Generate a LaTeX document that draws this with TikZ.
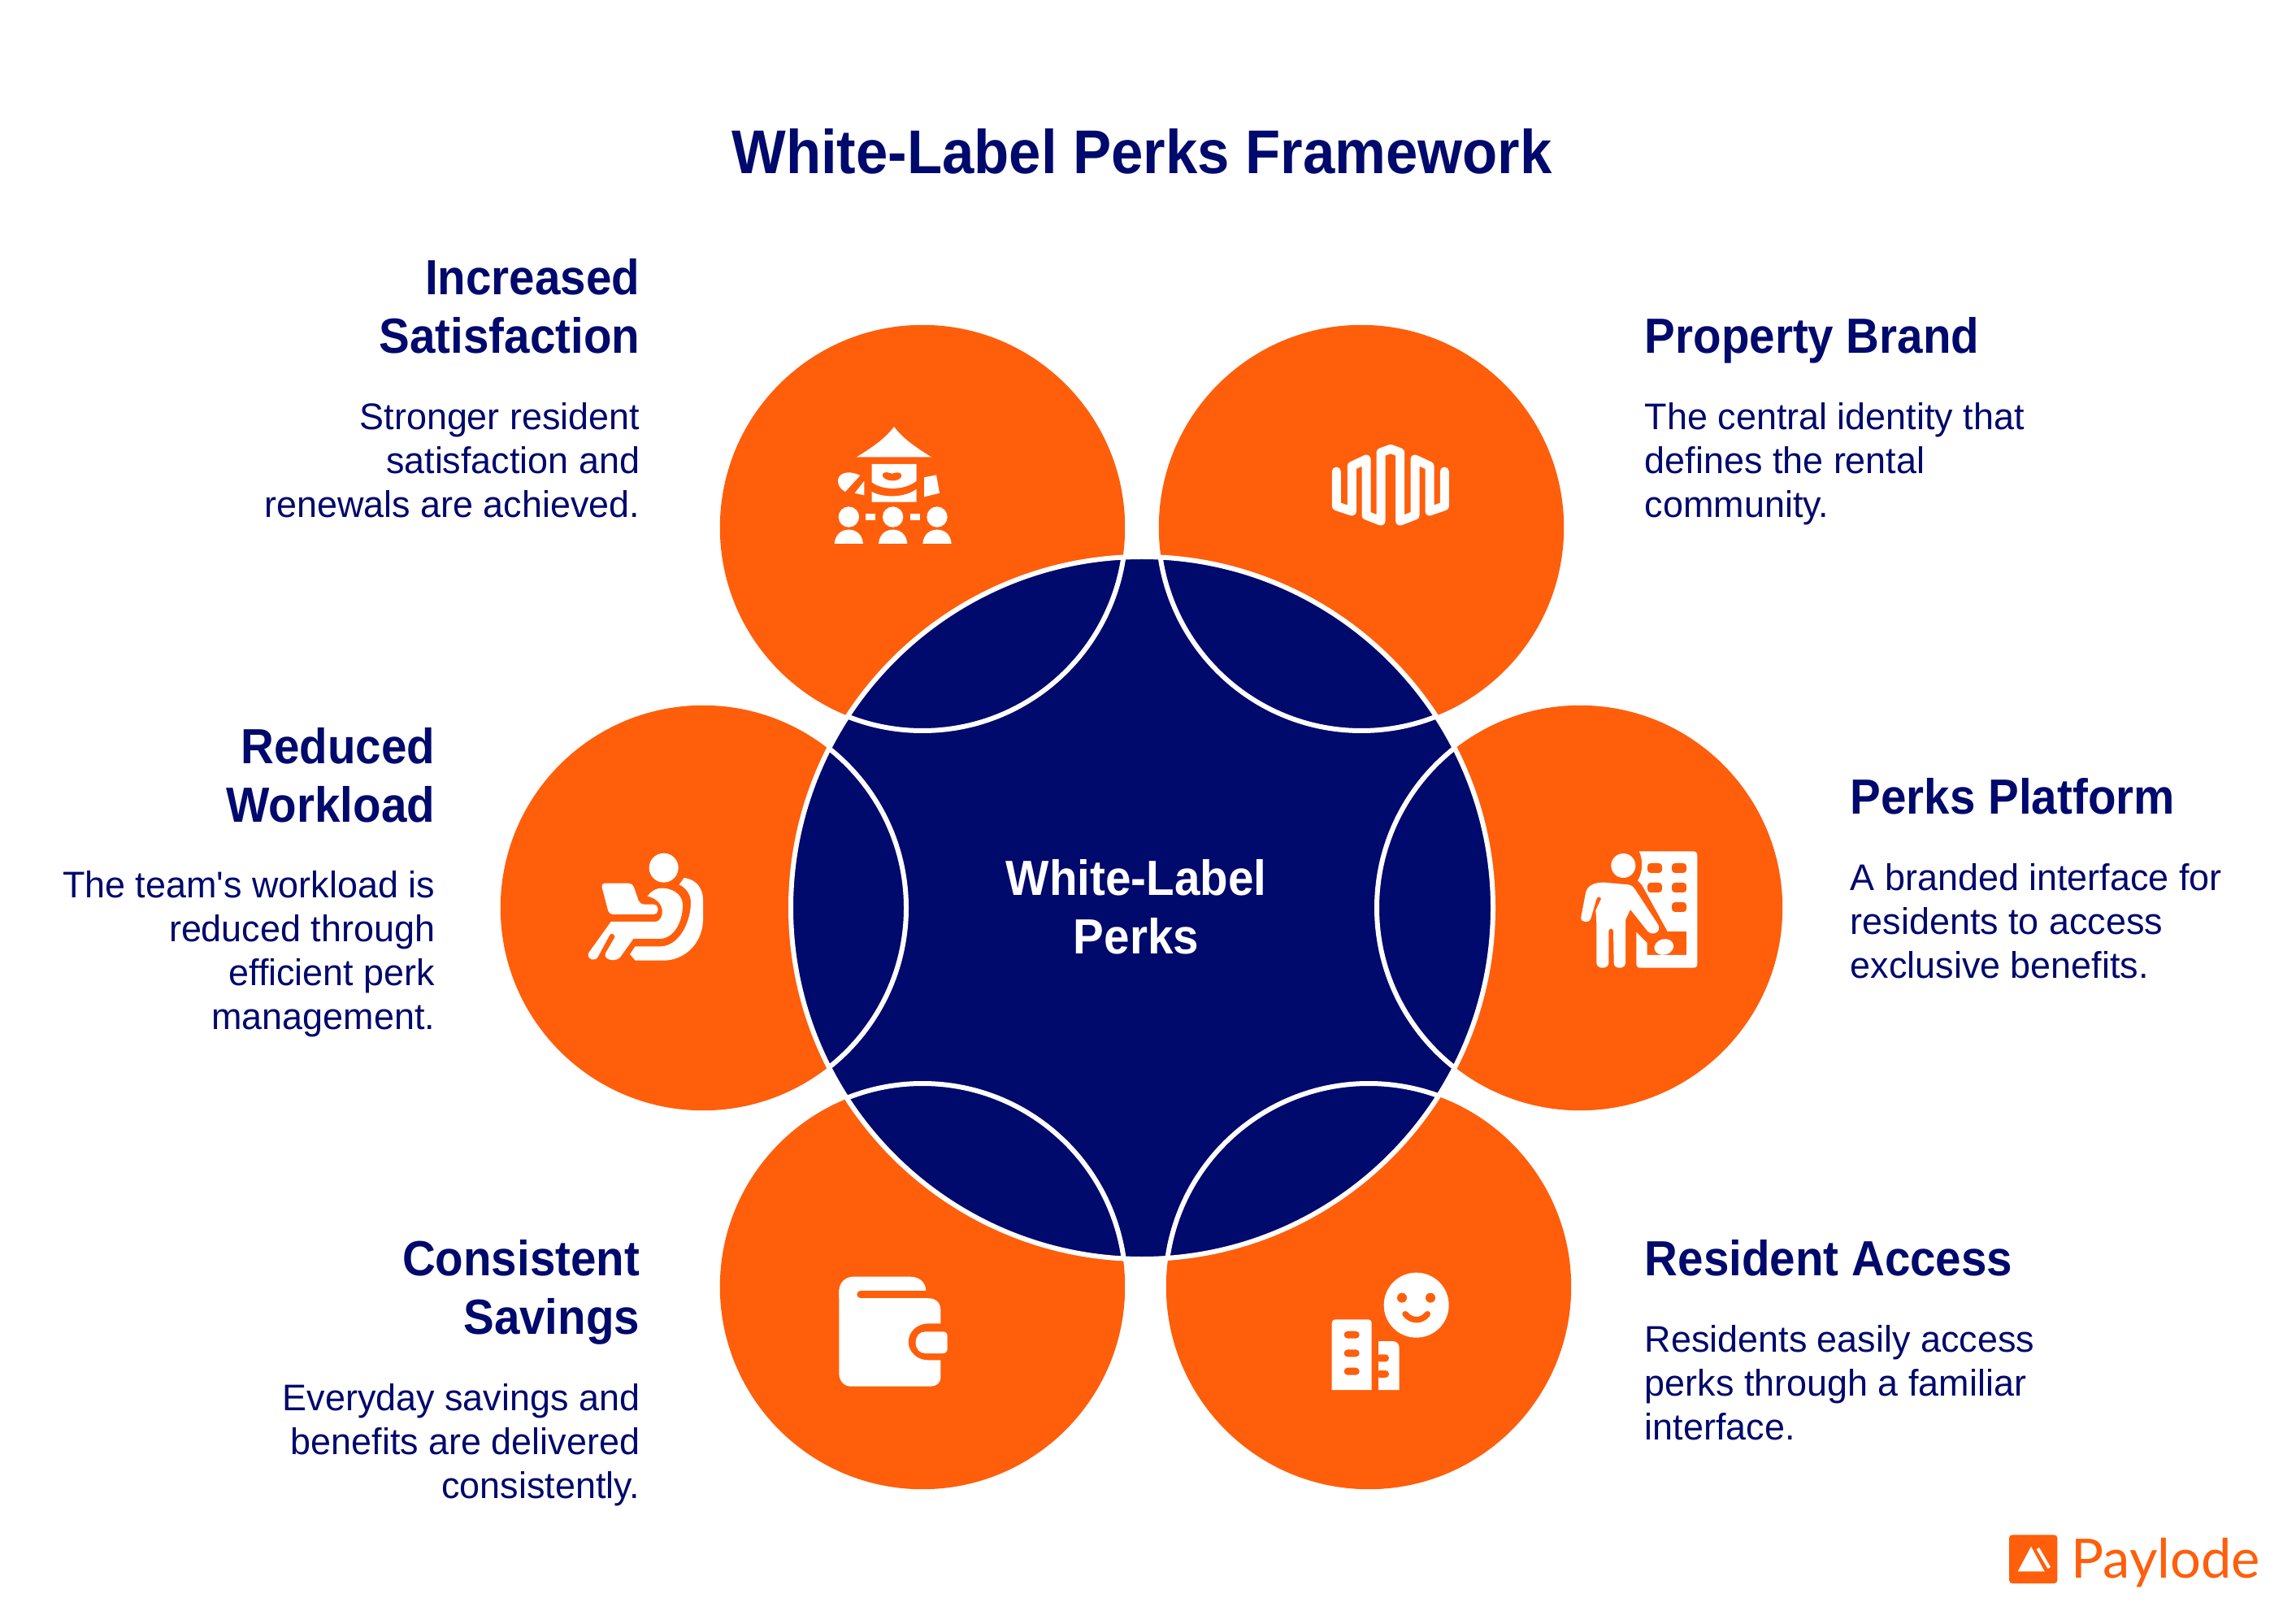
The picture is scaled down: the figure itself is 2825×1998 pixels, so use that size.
\documentclass[tikz,border=0pt]{standalone}
\usepackage{fontspec}
\setmainfont{Liberation Sans}[BoldFeatures={FakeStretch=0.93}]
\newfontfamily\bodyfont{Liberation Sans}[FakeStretch=0.985]
\newfontfamily\logofont{Lato}
\definecolor{po}{HTML}{FF5E0B}
\definecolor{nv}{HTML}{00096C}
\tikzset{
  petal/.style={circle,fill=po,minimum size=124.6pt,inner sep=0pt},
  rim/.style={circle,draw=white,line width=1.5pt,minimum size=125pt,inner sep=0pt},
  hub/.style={circle,fill=nv,draw=white,line width=1.5pt,minimum size=216pt,inner sep=0pt},
  head/.style={text=nv,inner sep=0pt,font=\bfseries\fontsize{15.2}{18}\selectfont},
  body/.style={text=nv,inner sep=0pt,font=\bodyfont\fontsize{11.4}{13.5}\selectfont},
  headR/.style={head,anchor=north east,align=right},
  bodyR/.style={body,anchor=north east,align=right},
  headL/.style={head,anchor=north west,align=left},
  bodyL/.style={body,anchor=north west,align=left},
  ink/.style={fill=white,draw=none},
  hole/.style={fill=po,draw=none},
  zoomed/.style={shift={#1},scale=0.33333}
}
\begin{document}
\begin{tikzpicture}[x=0.25pt,y=-0.25pt]
\useasboundingbox (0,0) rectangle (2825,1998);
\fill[white] (0,0) rectangle (2825,1998);
\node[text=nv,inner sep=0pt,font=\bfseries\fontsize{19}{23}\selectfont] (title) at (1405,186) {White-Label Perks Framework};
% petals
\node[petal] (p1) at (1135,649) {};
\node[petal] (p2) at (1675,649) {};
\node[petal] (p3) at (865,1117) {};
\node[petal] (p4) at (1944,1117) {};
\node[petal] (p5) at (1135,1583) {};
\node[petal] (p6) at (1684,1583) {};
\node[hub] (hub) at (1405,1117) {};
\begin{scope}
\clip (1405,1117) circle (432);
\node[rim] at (p1) {};
\node[rim] at (p2) {};
\node[rim] at (p3) {};
\node[rim] at (p4) {};
\node[rim] at (p5) {};
\node[rim] at (p6) {};
\end{scope}
\node[text=white,inner sep=0pt,align=center,font=\bfseries\fontsize{15.2}{18}\selectfont] (centre) at (1398,1116) {White-Label\\Perks};
% texts
\node[headR] (h1) at (788,318) {Increased\\Satisfaction};
\node[bodyR] (b1) at (788,495) {Stronger resident\\satisfaction and\\renewals are achieved.};
\node[headL] (h2) at (2023,390) {Property Brand};
\node[bodyL] (b2) at (2023,495) {The central identity that\\defines the rental\\community.};
\node[headR] (h3) at (536,895) {Reduced\\Workload};
\node[bodyR] (b3) at (536,1071) {The team\textquotesingle s workload is\\reduced through\\efficient perk\\management.};
\node[headL] (h4) at (2276,957) {Perks Platform};
\node[bodyL] (b4) at (2276,1062) {A branded interface for\\residents to access\\exclusive benefits.};
\node[headR] (h5) at (788,1525) {Consistent\\Savings};
\node[bodyR] (b5) at (788,1702) {Everyday savings and\\benefits are delivered\\consistently.};
\node[headL] (h6) at (2023,1525) {Resident Access};
\node[bodyL] (b6) at (2023,1630) {Residents easily access\\perks through a familiar\\interface.};
% icon 1
\begin{scope}[zoomed={(980,480)}]
\fill[ink] (222,247) .. controls (290,205) and (330,175) .. (360,135) .. controls (390,175) and (430,205) .. (498,247) -- cycle;
\fill[ink] (278,273) -- (443,273) -- (443,335) .. controls (400,370) and (320,372) .. (278,340) -- cycle;
\fill[ink] (278,375) .. controls (320,398) and (400,398) .. (443,365) -- (443,413) -- (278,413) -- cycle;
\fill[hole] (318,310) .. controls (325,298) and (340,305) .. (352,308) .. controls (365,305) and (385,298) .. (388,315) .. controls (385,340) and (330,340) .. (318,318) -- cycle;
\fill[ink] (235,315) -- (180,375) .. controls (150,360) and (145,325) .. (165,312) .. controls (185,298) and (215,305) .. (235,315) -- cycle;
\fill[ink] (250,335) -- (250,388) -- (215,380) -- cycle;
\fill[ink] (471,322) -- (516,313) -- (528,380) -- (471,394) -- cycle;
\foreach \c in {193,356,519}{
  \fill[ink] (\c,468) circle (38);
  \fill[ink] (\c-53,567) .. controls (\c-50,530) and (\c-25,515) .. (\c,515) .. controls (\c+25,515) and (\c+50,530) .. (\c+53,567) -- cycle;
}
\fill[ink] (256,455) rectangle (292,481);
\fill[ink] (420,455) rectangle (456,481);
\end{scope}
% icon 2
\begin{scope}[zoomed={(1600,510)}]
\draw[white,line width=2.75pt,line cap=round,line join=round] (133,210) -- (133,338) -- (190,357) -- (190,190) -- (243,165) -- (243,372) -- (297,393) -- (297,140) -- (333,127) -- (368,140) -- (368,393) -- (423,372) -- (423,165) -- (477,190) -- (477,357) -- (532,338) -- (532,210);
\end{scope}
% icon 3
\begin{scope}[zoomed={(700,1020)}]
\fill[ink] (350,143) circle (54);
\fill[ink,rounded corners=1.2pt] (118,200) -- (235,200) -- (262,278) -- (328,278) -- (328,315) -- (148,315) -- cycle;
\fill[ink] (290,248) .. controls (305,225) and (330,216) .. (350,218) .. controls (395,222) and (420,250) .. (420,280) .. controls (420,345) and (385,405) .. (335,405) -- (238,405) -- (190,472) .. controls (175,492) and (125,485) .. (135,458) -- (170,398) .. controls (165,382) and (155,385) .. (150,392) -- (108,470) .. controls (100,490) and (65,485) .. (72,458) -- (155,342) -- (320,342) .. controls (350,340) and (365,265) .. (290,248) -- cycle;
\fill[ink] (425,180) .. controls (470,185) and (495,220) .. (495,260) -- (495,340) .. controls (490,430) and (420,485) .. (350,485) -- (245,485) -- (225,462) -- (245,433) -- (340,433) .. controls (410,430) and (450,340) .. (450,270) .. controls (450,240) and (430,215) .. (407,205) -- cycle;
\end{scope}
% icon 4
\begin{scope}[zoomed={(1920,1020)}]
\fill[ink] (290,82) -- (490,82) .. controls (500,82) and (505,88) .. (505,98) -- (505,497) .. controls (505,507) and (500,512) .. (490,512) -- (295,512) .. controls (285,512) and (280,507) .. (280,497) -- (280,380) -- (320,420) -- (320,465) -- (465,465) -- (465,378) -- (395,378) -- (300,205) -- (285,190) .. controls (305,160) and (305,110) .. (290,82) -- cycle;
\foreach \a/\b in {321/126,411/126,321/198,411/198,411/270}{
  \fill[hole,rounded corners=1pt] (\a,\b) rectangle (\a+54,\b+36);
}
\fill[ink] (232,135) circle (45);
\fill[ink] (76,325) -- (93,235) .. controls (100,205) and (130,197) .. (160,197) -- (250,205) .. controls (265,208) and (270,215) .. (275,222) -- (362,355) .. controls (372,385) and (335,395) .. (320,375) -- (258,297) -- (240,335) -- (240,495) .. controls (238,518) and (198,518) .. (197,495) -- (195,375) .. controls (192,365) and (180,365) .. (178,375) -- (178,495) .. controls (176,518) and (135,518) .. (133,495) -- (133,345) -- (130,300) -- (150,258) .. controls (148,248) and (136,248) .. (133,258) -- (112,330) .. controls (105,350) and (72,345) .. (76,325) -- cycle;
\fill[ink,rotate around={15:(382,435)}] (382,435) ellipse (36 and 29);
\end{scope}
% icon 5
\begin{scope}[zoomed={(1000,1540)}]
\fill[ink] (97,145) .. controls (97,115) and (120,92) .. (150,92) -- (360,92) .. controls (395,92) and (418,115) .. (418,145) -- (418,172) -- (97,172) -- cycle;
\fill[ink] (97,140) -- (430,172) .. controls (455,172) and (472,190) .. (472,215) -- (472,265) -- (425,265) .. controls (385,265) and (353,295) .. (353,333) .. controls (353,370) and (385,400) .. (425,400) -- (472,400) -- (472,465) .. controls (472,485) and (455,497) .. (435,497) -- (140,497) .. controls (115,497) and (97,475) .. (97,450) -- cycle;
\draw[po,line width=2.15pt,line cap=round] (176,158) -- (418,158);
\fill[ink] (380,335) .. controls (380,310) and (395,295) .. (415,295) -- (480,295) .. controls (492,295) and (497,302) .. (497,312) -- (497,358) .. controls (497,368) and (492,375) .. (480,375) -- (415,375) .. controls (395,375) and (380,360) .. (380,335) -- cycle;
\end{scope}
% icon 6
\begin{scope}[zoomed={(1620,1540)}]
\fill[ink] (368,197) circle (120);
\fill[hole] (315,170) circle (18);
\fill[hole] (420,170) circle (18);
\draw[po,line width=1.85pt,line cap=round] (327,230) .. controls (350,258) and (388,258) .. (409,230);
\fill[ink] (56,510) -- (56,265) .. controls (56,255) and (62,250) .. (72,250) -- (188,250) .. controls (198,250) and (203,255) .. (203,265) -- (203,510) -- cycle;
\foreach \b in {293,361,428}{
  \fill[hole,rounded corners=1.1pt] (101,\b) rectangle (158,\b+27);
}
\fill[ink] (228,510) -- (228,330) -- (280,330) .. controls (295,330) and (305,340) .. (305,355) -- (305,510) -- cycle;
\foreach \b in {379,438}{
  \fill[hole,rounded corners=1.1pt] (220,\b) rectangle (267,\b+27);
}
\end{scope}
% logo
\begin{scope}[zoomed={(2450,1870)}]
\fill[po,rounded corners=1pt] (66,55) rectangle (244,234);
\fill[ink] (147,98) -- (197,190) -- (98,190) -- cycle;
\draw[white,line width=1pt] (172,105) -- (214,177);
\end{scope}
\node[text=po,inner sep=0pt,anchor=base west,font=\logofont\fontsize{16.7}{20}\selectfont] (logo) at (2548,1941) {Paylode};
\end{tikzpicture}
\end{document}
